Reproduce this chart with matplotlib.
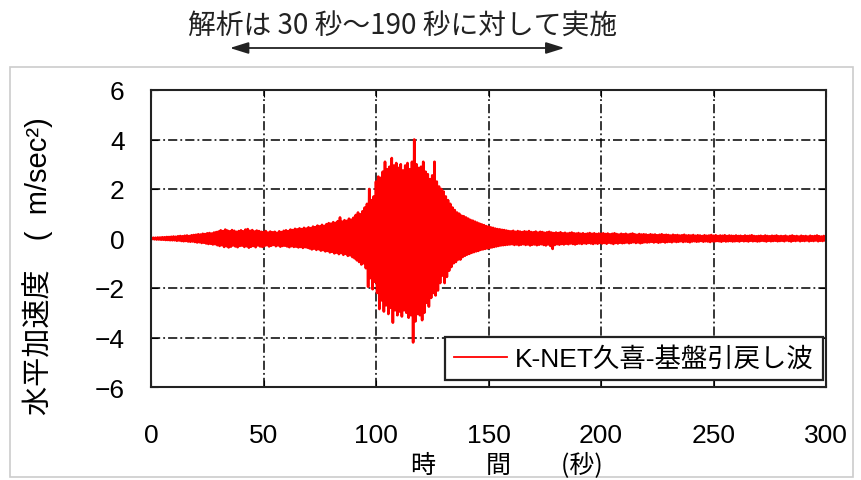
import numpy as np
import matplotlib
matplotlib.use("Agg")
import matplotlib.pyplot as plt
from matplotlib.patches import Rectangle

plt.rcParams['font.family'] = ['Liberation Sans', 'Noto Sans CJK JP', 'DejaVu Sans']
plt.rcParams['axes.unicode_minus'] = True

# time of each 1 s window (s)
t_sec = np.arange(0, 301, 1)

# positive peak in each 1 s window (m/sec2)
peak_pos = np.array([
    0.02, 0.03, 0.03, 0.04, 0.04, 0.05, 0.05, 0.06, 0.06, 0.07,
    0.08, 0.07, 0.09, 0.10, 0.09, 0.11, 0.12, 0.10, 0.13, 0.14,
    0.15, 0.17, 0.16, 0.19, 0.18, 0.21, 0.22, 0.20, 0.24, 0.26,
    0.28, 0.33, 0.30, 0.36, 0.32, 0.29, 0.34, 0.31, 0.27, 0.30,
    0.33, 0.29, 0.36, 0.38, 0.31, 0.34, 0.28, 0.32, 0.30, 0.27,
    0.26, 0.30, 0.24, 0.28, 0.25, 0.27, 0.23, 0.29, 0.26, 0.31,
    0.33, 0.30, 0.36, 0.34, 0.39, 0.37, 0.41, 0.38, 0.43, 0.40,
    0.45, 0.42, 0.48, 0.46, 0.52, 0.49, 0.55, 0.51, 0.58, 0.62,
    0.60, 0.66, 0.63, 0.70, 0.85, 0.68, 0.74, 0.71, 0.80, 0.76,
    0.84, 0.95, 1.05, 0.98, 1.10, 1.25, 1.40, 2.00, 1.55, 1.70,
    2.30, 2.50, 2.45, 2.70, 3.10, 2.80, 2.90, 3.25, 2.95, 3.05,
    2.85, 3.00, 2.75, 2.95, 3.05, 2.80, 3.10, 4.00, 3.00, 2.85,
    2.90, 3.10, 2.70, 2.60, 2.40, 2.55, 3.10, 2.30, 2.10, 2.00,
    1.90, 1.70, 1.55, 1.40, 1.25, 1.15, 1.05, 1.00, 0.92, 0.90,
    0.85, 0.80, 0.75, 0.72, 0.68, 0.64, 0.60, 0.57, 0.54, 0.50,
    0.48, 0.45, 0.43, 0.40, 0.38, 0.37, 0.35, 0.34, 0.32, 0.30,
    0.29, 0.31, 0.27, 0.30, 0.28, 0.26, 0.29, 0.27, 0.30, 0.26,
    0.25, 0.28, 0.24, 0.27, 0.26, 0.23, 0.25, 0.27, 0.24, 0.22,
    0.24, 0.22, 0.25, 0.21, 0.23, 0.20, 0.22, 0.24, 0.21, 0.20,
    0.22, 0.19, 0.21, 0.18, 0.20, 0.22, 0.19, 0.21, 0.18, 0.20,
    0.19, 0.21, 0.18, 0.20, 0.17, 0.19, 0.21, 0.18, 0.16, 0.19,
    0.17, 0.19, 0.16, 0.18, 0.20, 0.17, 0.15, 0.18, 0.16, 0.17,
    0.16, 0.14, 0.17, 0.15, 0.16, 0.13, 0.15, 0.17, 0.14, 0.15,
    0.14, 0.12, 0.15, 0.13, 0.14, 0.12, 0.13, 0.15, 0.12, 0.13,
    0.12, 0.14, 0.11, 0.13, 0.12, 0.10, 0.13, 0.11, 0.12, 0.14,
    0.11, 0.13, 0.10, 0.12, 0.11, 0.13, 0.10, 0.12, 0.11, 0.10,
    0.12, 0.10, 0.11, 0.09, 0.12, 0.10, 0.11, 0.13, 0.10, 0.09,
    0.10, 0.11, 0.09, 0.12, 0.10, 0.09, 0.11, 0.10, 0.12, 0.09,
    0.10, 0.09, 0.11, 0.08, 0.10, 0.12, 0.09, 0.10, 0.08, 0.11,
    0.09, 0.10, 0.08, 0.11, 0.09, 0.10, 0.12, 0.09, 0.08, 0.10,
    0.09,
])

# size of the negative peak in each 1 s window (m/sec2)
peak_neg = np.array([
    0.02, 0.03, 0.04, 0.04, 0.05, 0.05, 0.06, 0.06, 0.07, 0.07,
    0.07, 0.09, 0.08, 0.10, 0.11, 0.10, 0.12, 0.13, 0.12, 0.14,
    0.16, 0.15, 0.18, 0.17, 0.20, 0.22, 0.21, 0.24, 0.23, 0.27,
    0.30, 0.27, 0.34, 0.31, 0.36, 0.33, 0.28, 0.32, 0.35, 0.30,
    0.29, 0.34, 0.31, 0.37, 0.33, 0.30, 0.35, 0.28, 0.32, 0.34,
    0.30, 0.27, 0.32, 0.29, 0.26, 0.31, 0.28, 0.33, 0.30, 0.29,
    0.32, 0.35, 0.31, 0.34, 0.33, 0.36, 0.34, 0.38, 0.35, 0.37,
    0.40, 0.44, 0.41, 0.46, 0.43, 0.49, 0.47, 0.52, 0.50, 0.56,
    0.54, 0.60, 0.57, 0.63, 0.59, 0.66, 0.62, 0.70, 0.68, 0.75,
    0.80, 0.88, 0.95, 1.05, 1.00, 1.20, 1.95, 1.60, 2.05, 1.75,
    2.20, 2.85, 2.50, 2.95, 2.70, 3.05, 2.80, 3.40, 2.90, 3.10,
    2.95, 3.15, 2.90, 3.00, 3.20, 3.10, 4.20, 3.35, 3.05, 3.10,
    3.30, 3.00, 2.60, 2.75, 2.40, 2.20, 2.30, 2.10, 1.80, 1.50,
    1.80, 1.55, 1.30, 1.15, 1.00, 0.95, 0.85, 0.85, 0.75, 0.70,
    0.65, 0.62, 0.58, 0.55, 0.52, 0.50, 0.46, 0.44, 0.42, 0.40,
    0.38, 0.36, 0.34, 0.32, 0.30, 0.28, 0.27, 0.26, 0.25, 0.24,
    0.23, 0.26, 0.24, 0.27, 0.25, 0.23, 0.26, 0.24, 0.28, 0.25,
    0.24, 0.27, 0.25, 0.23, 0.26, 0.28, 0.24, 0.30, 0.42, 0.26,
    0.23, 0.25, 0.22, 0.24, 0.21, 0.23, 0.20, 0.22, 0.24, 0.21,
    0.20, 0.22, 0.19, 0.21, 0.18, 0.20, 0.22, 0.19, 0.21, 0.18,
    0.20, 0.18, 0.21, 0.17, 0.19, 0.22, 0.18, 0.20, 0.17, 0.19,
    0.18, 0.16, 0.19, 0.17, 0.15, 0.18, 0.16, 0.19, 0.17, 0.15,
    0.16, 0.15, 0.13, 0.16, 0.14, 0.17, 0.15, 0.13, 0.16, 0.14,
    0.13, 0.15, 0.12, 0.14, 0.13, 0.11, 0.14, 0.12, 0.13, 0.15,
    0.12, 0.11, 0.13, 0.12, 0.10, 0.13, 0.11, 0.12, 0.14, 0.11,
    0.12, 0.10, 0.11, 0.13, 0.10, 0.12, 0.11, 0.10, 0.12, 0.11,
    0.10, 0.12, 0.09, 0.11, 0.10, 0.12, 0.09, 0.11, 0.10, 0.12,
    0.11, 0.09, 0.10, 0.12, 0.09, 0.11, 0.10, 0.09, 0.11, 0.10,
    0.09, 0.11, 0.08, 0.10, 0.12, 0.09, 0.10, 0.08, 0.11, 0.09,
    0.10, 0.08, 0.11, 0.09, 0.10, 0.08, 0.11, 0.09, 0.10, 0.08,
    0.09,
])

x_ticks = [0, 50, 100, 150, 200, 250, 300]
y_ticks = [-6, -4, -2, 0, 2, 4, 6]
series_name = 'K-NET久喜-基盤引戻し波'
title_text = '解析は 30 秒～190 秒に対して実施'
range_sec = (30, 190)

# max and min of each window, one after the other
t_line = np.column_stack([t_sec, t_sec + 0.5]).ravel()
acc_line = np.column_stack([peak_pos, -peak_neg]).ravel()

W, H = 861, 481
fig = plt.figure(figsize=(W / 100, H / 100), dpi=100)
ax = fig.add_axes([151 / W, 1 - 388 / H, 675 / W, 297 / H])

ax.plot(t_line, acc_line, color='#ff0000', lw=1.9, label=series_name)

ax.set_xlim(0, 300)
ax.set_ylim(-6, 6)
ax.set_xticks(x_ticks)
ax.set_yticks(y_ticks)
ax.tick_params(axis='x', direction='in', length=5, labelsize=19, pad=26,
               top=True)
ax.tick_params(axis='y', direction='in', length=5, labelsize=19, pad=19,
               right=True)
ax.grid(True, color='black', lw=1.1, linestyle=(0, (6, 2, 1.2, 2)))
for s in ax.spines.values():
    s.set_linewidth(1.5)
    s.set_color('#222222')

leg = ax.legend(loc='lower right', bbox_to_anchor=(0.995, 0.022),
                borderaxespad=0, fancybox=False, framealpha=1,
                edgecolor='#222222', fontsize=19, handlelength=2.0,
                handletextpad=0.3, borderpad=0.35)
leg.get_frame().set_linewidth(1.6)
for ln in leg.get_lines():
    ln.set_linewidth(1.3)

fig.text(38 / W, 1 - 266 / H, '水平加速度　(  m/sec²)', rotation=90,
         ha='center', va='center', fontsize=21,
         family=['Liberation Sans', 'Noto Sans CJK JP'])
fig.text(507 / W, 1 - 465 / H, '時　　間　　(秒)', ha='center', va='center',
         fontsize=18, family=['Noto Sans CJK JP'])

# note above the chart with the analysed range
fig.text(402 / W, 1 - 27 / H, title_text, ha='center', va='center',
         fontsize=20, family=['Noto Sans CJK JP'], color='#222222')
x0 = ax.transData.transform((range_sec[0], 0))[0] / W
x1 = ax.transData.transform((range_sec[1], 0))[0] / W
fig.add_artist(matplotlib.patches.FancyArrowPatch(
    (x0 + 0.010, 1 - 49 / H), (x1 - 0.013, 1 - 49 / H),
    transform=fig.transFigure, arrowstyle='<|-|>,head_length=0.8,head_width=0.25',
    mutation_scale=14, color='#222222', lw=1.3))

# light frame round the chart
fig.add_artist(Rectangle((10 / W, 1 - 478 / H), 843 / W, 410 / H,
                         transform=fig.transFigure, fill=False,
                         edgecolor='#cccccc', lw=1.2))

fig.savefig('out.png', dpi=100)
